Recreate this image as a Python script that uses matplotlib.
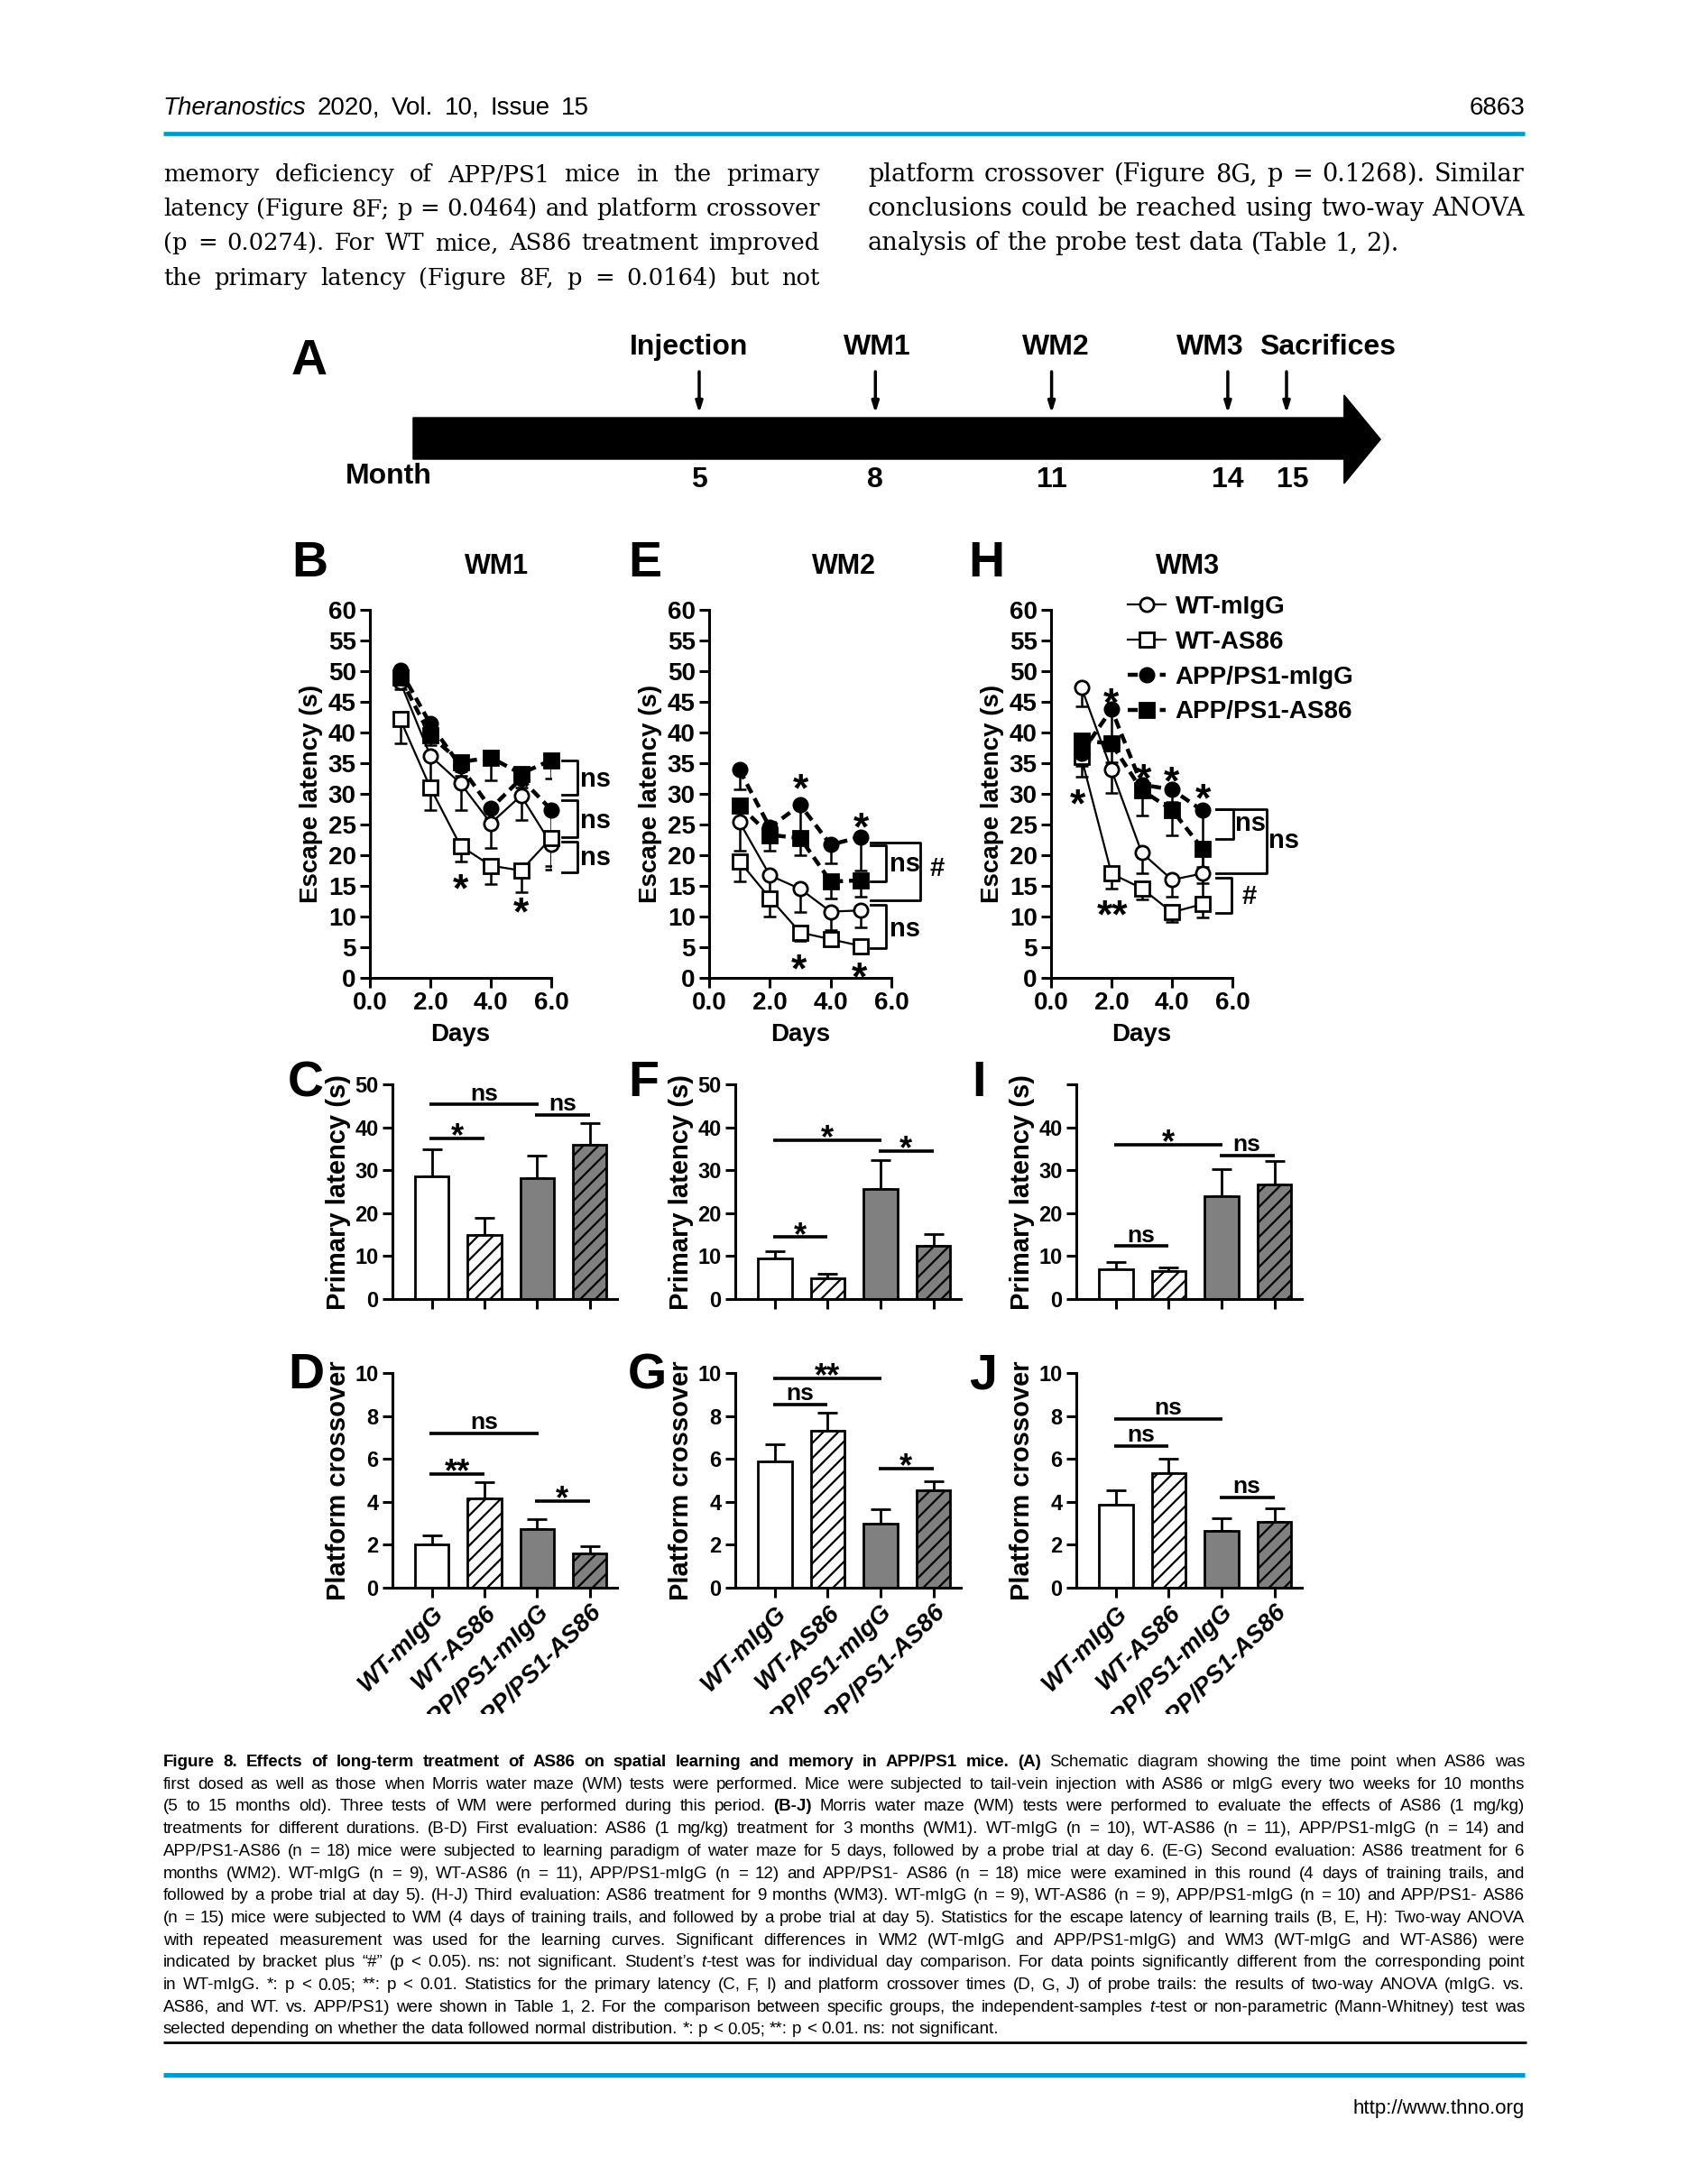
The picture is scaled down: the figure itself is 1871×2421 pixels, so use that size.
import matplotlib
matplotlib.use("Agg")
import matplotlib.pyplot as plt
import numpy as np
from matplotlib import font_manager
from matplotlib.patches import Polygon
from matplotlib.transforms import Bbox, TransformedBbox

W, H = 1871, 2421
BLUE = "#0099cc"
GRAY = "#808080"

_have = {f.name for f in font_manager.fontManager.ttflist}


def pick(*names):
    for n in names:
        if n in _have:
            return n
    return "DejaVu Sans"


SANS = pick("Liberation Sans", "Arial")
NARROW = pick("Liberation Sans Narrow", "Liberation Sans")
SERIF = "DejaVu Serif"

plt.rcParams["font.family"] = [SANS, "DejaVu Sans"]
plt.rcParams["font.weight"] = "bold"
plt.rcParams["axes.labelweight"] = "bold"
plt.rcParams["hatch.linewidth"] = 1.6

# ---- data ---------------------------------------------------------------
GROUPS = ["WT-mIgG", "WT-AS86", "APP/PS1-mIgG", "APP/PS1-AS86"]

# panel A timeline
events = ["Injection", "WM1", "WM2", "WM3", "Sacrifices"]
event_months = [5, 8, 11, 14, 15]
event_label_x = [4.82, 8.03, 11.07, 13.7, 15.7]

# escape latency (s), rows follow GROUPS; error = SEM (drawn downward)
wm1_days = [1, 2, 3, 4, 5, 6]
wm1_mean = [[48.3, 36.2, 31.7, 25.2, 29.7, 21.8],
            [42.2, 31.0, 21.5, 18.3, 17.5, 22.8],
            [50.2, 41.4, 34.5, 27.6, 32.5, 27.4],
            [49.0, 39.5, 35.2, 35.9, 33.3, 35.5]]
wm1_err = [[1.2, 5.0, 4.3, 4.0, 4.0, 4.2],
           [4.0, 3.6, 2.5, 3.0, 3.5, 4.5],
           [1.0, 1.5, 1.5, 1.5, 1.5, 5.0],
           [1.0, 1.5, 1.5, 3.7, 1.5, 3.0]]

wm2_days = [1, 2, 3, 4, 5]
wm2_mean = [[25.4, 16.7, 14.5, 10.8, 11.0],
            [19.0, 13.0, 7.4, 6.3, 5.2],
            [33.9, 24.5, 28.2, 21.7, 23.0],
            [28.1, 23.3, 22.8, 15.7, 15.9]]
wm2_err = [[4.6, 3.5, 3.7, 3.0, 2.7],
           [3.2, 3.0, 1.3, 0.6, 0.4],
           [3.1, 2.0, 5.0, 3.0, 5.5],
           [2.0, 2.5, 2.8, 2.7, 2.7]]

wm3_days = [1, 2, 3, 4, 5]
wm3_mean = [[47.4, 33.9, 20.4, 16.0, 17.0],
            [36.0, 17.0, 14.6, 10.7, 12.0],
            [36.6, 43.8, 31.5, 30.7, 27.3],
            [38.7, 38.2, 30.6, 27.4, 21.1]]
wm3_err = [[3.2, 3.7, 3.3, 2.7, 4.0],
           [3.2, 2.5, 1.8, 1.6, 2.2],
           [2.0, 5.0, 2.0, 2.0, 11.8],
           [2.0, 3.0, 4.2, 4.2, 3.0]]

# (x, y, label) day-wise significance marks
wm1_stars = [(3, 16.3, "*"), (5, 12.4, "*")]
wm2_stars = [(3, 32.6, "*"), (5, 26.2, "*"), (2.95, 3.2, "*"), (4.95, 1.8, "*")]
wm3_stars = [(0.87, 30.1, "*"), (1.98, 46.5, "*"), (3.07, 34.1, "*"),
             (3.99, 33.8, "*"), (5.03, 30.9, "*"), (2.03, 12.0, "**")]

# (x_left, x_right, y_top, y_bottom, label, label_x, label_y)
wm1_brackets = [(6.36, 6.86, 35.5, 29.8, "ns", 6.96, 32.4),
                (6.36, 6.86, 29.0, 23.0, "ns", 6.96, 25.6),
                (6.36, 6.86, 22.2, 17.2, "ns", 6.96, 19.6)]
wm2_brackets = [(5.32, 5.83, 21.6, 15.7, "ns", 5.93, 18.5),
                (5.32, 5.83, 11.9, 4.8, "ns", 5.93, 8.0),
                (5.32, 6.94, 22.1, 12.6, "#", 7.25, 17.8)]
wm3_brackets = [(5.45, 6.02, 27.5, 22.7, "ns", 6.1, 25.1),
                (5.45, 7.12, 27.5, 17.1, "ns", 7.2, 22.4),
                (5.45, 5.97, 16.3, 10.6, "#", 6.3, 13.2)]

# probe trial bars
c_mean, c_err = [28.6, 14.9, 28.2, 36.0], [6.2, 4.0, 5.2, 5.0]
f_mean, f_err = [9.5, 4.8, 25.6, 12.4], [1.7, 1.1, 6.7, 2.7]
i_mean, i_err = [7.0, 6.5, 23.9, 26.6], [1.6, 0.9, 6.4, 5.5]
d_mean, d_err = [2.02, 4.18, 2.73, 1.61], [0.42, 0.72, 0.47, 0.31]
g_mean, g_err = [5.89, 7.30, 2.99, 4.55], [0.79, 0.86, 0.68, 0.41]
j_mean, j_err = [3.88, 5.34, 2.64, 3.05], [0.64, 0.65, 0.58, 0.64]

# (bar_i, bar_j, y, label)
c_sig = [(0, 1, 37.4, "*"), (0, 2, 45.3, "ns"), (2, 3, 42.8, "ns")]
f_sig = [(0, 1, 14.4, "*"), (0, 2, 37.0, "*"), (2, 3, 34.5, "*")]
i_sig = [(0, 1, 12.3, "ns"), (0, 2, 36.0, "*"), (2, 3, 33.4, "ns")]
d_sig = [(0, 1, 5.31, "**"), (0, 2, 7.2, "ns"), (2, 3, 4.03, "*")]
g_sig = [(0, 1, 8.52, "ns"), (0, 2, 9.75, "**"), (2, 3, 5.55, "*")]
j_sig = [(0, 1, 6.61, "ns"), (0, 2, 7.85, "ns"), (2, 3, 4.21, "ns")]

# ---- page text --------------------------------------------------------------
body_left = [
    [("memory deficiency of APP/PS1 mice in the primary", "n")],
    [("latency (Figure 8F; p = 0.0464) and platform crossover", "n")],
    [("(p = 0.0274). For WT mice, AS86 treatment improved", "n")],
    [("the primary latency (Figure 8F, p = 0.0164) but not", "n")],
]
body_right = [
    [("platform crossover (Figure 8G, p = 0.1268). Similar", "n")],
    [("conclusions could be reached using two-way ANOVA", "n")],
    [("analysis of the probe test data (Table 1, 2).", "n")],
]
caption = [
    [("Figure 8. Effects of long-term treatment of AS86 on spatial learning and memory in APP/PS1 mice. (A)", "b"),
     (" Schematic diagram showing the time point when AS86 was", "n")],
    [("first dosed as well as those when Morris water maze (WM) tests were performed. Mice were subjected to tail-vein injection with AS86 or mIgG every two weeks for 10 months", "n")],
    [("(5 to 15 months old). Three tests of WM were performed during this period. ", "n"), ("(B-J)", "b"),
     (" Morris water maze (WM) tests were performed to evaluate the effects of AS86 (1 mg/kg)", "n")],
    [("treatments for different durations. (B-D) First evaluation: AS86 (1 mg/kg) treatment for 3 months (WM1). WT-mIgG (n = 10), WT-AS86 (n = 11), APP/PS1-mIgG (n = 14) and", "n")],
    [("APP/PS1-AS86 (n = 18) mice were subjected to learning paradigm of water maze for 5 days, followed by a probe trial at day 6. (E-G) Second evaluation: AS86 treatment for 6", "n")],
    [("months (WM2). WT-mIgG (n = 9), WT-AS86 (n = 11), APP/PS1-mIgG (n = 12) and APP/PS1- AS86 (n = 18) mice were examined in this round (4 days of training trails, and", "n")],
    [("followed by a probe trial at day 5). (H-J) Third evaluation: AS86 treatment for 9 months (WM3). WT-mIgG (n = 9), WT-AS86 (n = 9), APP/PS1-mIgG (n = 10) and APP/PS1- AS86", "n")],
    [("(n = 15) mice were subjected to WM (4 days of training trails, and followed by a probe trial at day 5). Statistics for the escape latency of learning trails (B, E, H): Two-way ANOVA", "n")],
    [("with repeated measurement was used for the learning curves. Significant differences in WM2 (WT-mIgG and APP/PS1-mIgG) and WM3 (WT-mIgG and WT-AS86) were", "n")],
    [("indicated by bracket plus \u201c#\u201d (p < 0.05). ns: not significant. Student\u2019s ", "n"), ("t", "i"),
     ("-test was for individual day comparison. For data points significantly different from the corresponding point", "n")],
    [("in WT-mIgG. *: p < 0.05; **: p < 0.01. Statistics for the primary latency (C, F, I) and platform crossover times (D, G, J) of probe trails: the results of two-way ANOVA (mIgG. vs.", "n")],
    [("AS86, and WT. vs. APP/PS1) were shown in Table 1, 2. For the comparison between specific groups, the independent-samples ", "n"),
     ("t", "i"), ("-test or non-parametric (Mann-Whitney) test was", "n")],
    [("selected depending on whether the data followed normal distribution. *: p < 0.05; **: p < 0.01. ns: not significant.", "n")],
]

# ---- figure -----------------------------------------------------------------
fig = plt.figure(figsize=(W / 100, H / 100), dpi=100)
page = fig.add_axes([0, 0, 1, 1])
page.set_xlim(0, W)
page.set_ylim(H, 0)
page.axis("off")
renderer = fig.canvas.get_renderer()


def px_axes(left, top, right, bottom):
    ax = fig.add_axes([left / W, 1 - bottom / H, (right - left) / W, (bottom - top) / H])
    ax.patch.set_alpha(0)
    return ax


def make_words(chunks, size, family):
    words = [[]]
    for s, st in chunks:
        for k, part in enumerate(s.split(" ")):
            if k:
                words.append([])
            if part:
                words[-1].append((part, st))
    out = []
    for w in words:
        if not w:
            continue
        pieces = []
        for part, st in w:
            t = page.text(0, 0, part, fontsize=size, family=family,
                          fontweight="bold" if st == "b" else "normal",
                          fontstyle="italic" if st == "i" else "normal",
                          ha="left", va="baseline")
            pieces.append((t, t.get_window_extent(renderer).width))
        out.append(pieces)
    return out


def paragraph(lines, x0, x1, y0, dy, size, family, justify_last=False):
    built = [make_words(l, size, family) for l in lines]
    a = page.text(0, 0, "a a", fontsize=size, family=family, fontweight="normal")
    b = page.text(0, 0, "aa", fontsize=size, family=family, fontweight="normal")
    sp = a.get_window_extent(renderer).width - b.get_window_extent(renderer).width
    a.remove()
    b.remove()
    natural = [sum(p[1] for w in ws for p in w) + sp * (len(ws) - 1) for ws in built]
    k = min(1.0, 0.995 * (x1 - x0) / max(natural))
    for n, ws in enumerate(built):
        y = y0 + n * dy
        wsum = sum(p[1] for w in ws for p in w) * k
        if (n < len(built) - 1 or justify_last) and len(ws) > 1:
            gap = (x1 - x0 - wsum) / (len(ws) - 1)
        else:
            gap = sp * k
        x = x0
        for w in ws:
            for t, wd in w:
                t.set_fontsize(size * k)
                t.set_position((x, y))
                x += wd * k
            x += gap


# header / body / caption / footer
paragraph([[("Theranostics", "i"), (" 2020, Vol. 10, Issue 15", "n")]], 181, 653, 127, 0, 20, SANS,
          justify_last=True)
page.text(1690, 127, "6863", ha="right", va="baseline", fontsize=20, fontweight="normal")
page.plot([181, 1690], [148, 148], color=BLUE, lw=3.4, solid_capstyle="butt")

paragraph(body_left, 181, 909, 201, 38.2, 19.5, SERIF, justify_last=True)
paragraph(body_right, 962, 1690, 201, 38.2, 19.5, SERIF)

paragraph(caption, 181, 1690, 1958, 24.7, 13.5, SANS)
page.plot([181, 1692], [2264, 2264], color="black", lw=2, solid_capstyle="butt")
page.plot([181, 1690], [2300, 2300], color=BLUE, lw=3.6, solid_capstyle="butt")
page.text(1690, 2343, "http://www.thno.org", ha="right", va="baseline", fontsize=16,
          fontweight="normal")

# panel letters and titles
for lab, x, y in [("A", 343, 401), ("B", 343, 625), ("E", 715, 625), ("H", 1093, 625),
                  ("C", 339, 1201), ("F", 713, 1201), ("I", 1085, 1201),
                  ("D", 339, 1525), ("G", 717, 1525), ("J", 1090, 1525)]:
    page.text(x, y, lab, ha="center", va="center", fontsize=40)
for lab, x in [("WM1", 551), ("WM2", 935), ("WM3", 1317)]:
    page.text(x, 628, lab, ha="center", va="center", fontsize=22)

# ---- panel A: timeline --------------------------------------------------------
def month_of(px):
    return 5 + (px - 775) / 65.1


axA = px_axes(300, 350, 1600, 560)
axA.set_xlim(month_of(300), month_of(1600))
axA.set_ylim(560, 350)
axA.axis("off")
axA.add_patch(Polygon([(0.13, 463), (15.98, 463), (15.98, 438), (16.6, 487),
                       (15.98, 536), (15.98, 509), (0.13, 509)], closed=True,
                      facecolor="black", edgecolor="black"))
A_FONT = 25 if NARROW != SANS else 23
for ev, m, lx in zip(events, event_months, event_label_x):
    axA.annotate("", xy=(m, 458), xytext=(m, 412),
                 arrowprops=dict(arrowstyle="-|>,head_length=0.7,head_width=0.22",
                                 lw=2.5, color="black", shrinkA=0, shrinkB=0))
    axA.text(lx, 385, ev, ha="center", va="center", fontsize=A_FONT, family=NARROW)
    axA.text(m + (0.1 if m == 15 else 0), 532, str(m), ha="center", va="center",
             fontsize=A_FONT, family=NARROW)
axA.text(month_of(431), 528, "Month", ha="center", va="center", fontsize=A_FONT, family=NARROW)

# ---- learning curves --------------------------------------------------------
CURVE_STYLE = [
    dict(marker="o", mfc="white", ls="-", lw=1.6),
    dict(marker="s", mfc="white", ls="-", lw=1.6),
    dict(marker="o", mfc="black", ls=(0, (2.5, 1.5)), lw=3.2),
    dict(marker="s", mfc="black", ls=(0, (2.5, 1.5)), lw=3.2),
]
STAR = 32          # asterisk size (pt) on the learning curves
BAR_STAR = 26      # asterisk size (pt) over the bars
STAR_MID = 0.58    # asterisk centre above baseline, in em


def style_axis(ax):
    for s in ("top", "right"):
        ax.spines[s].set_visible(False)
    for s in ("left", "bottom"):
        ax.spines[s].set_linewidth(2.2)
    ax.tick_params(direction="out", length=8, width=2.2, pad=3)


def curve_panel(ax, days, means, errs, stars, brackets):
    handles = []
    for k in range(4):
        ax.errorbar(days, means[k], yerr=[errs[k], np.zeros(len(days))], fmt="none",
                    ecolor="black", elinewidth=1.8, capsize=5, capthick=1.8, zorder=2)
    for k in range(4):
        st = CURVE_STYLE[k]
        h, = ax.plot(days, means[k], color="black", marker=st["marker"], mfc=st["mfc"],
                     mec="black", mew=2, ms=11, ls=st["ls"], lw=st["lw"],
                     zorder=3 + k, clip_on=False)
        handles.append(h)
    for x, y, lab in stars:
        ax.annotate(lab, (x, y), xytext=(0, -STAR * STAR_MID), textcoords="offset points",
                    ha="center", va="baseline", fontsize=STAR, annotation_clip=False)
    for x0, x1, yt, yb, lab, lx, ly in brackets:
        ax.plot([x0, x1, x1, x0], [yt, yt, yb, yb], color="black", lw=2, clip_on=False)
        ax.text(lx, ly, lab, ha="left", va="center", fontsize=21, clip_on=False)
    ax.set_xlim(0, 6)
    ax.set_ylim(0, 60)
    ax.set_xticks([0, 2, 4, 6])
    ax.set_xticklabels(["0.0", "2.0", "4.0", "6.0"])
    ax.set_yticks(np.arange(0, 61, 5))
    ax.tick_params(labelsize=20)
    ax.set_xlabel("Days", fontsize=20, labelpad=6)
    ax.set_ylabel("Escape latency (s)", fontsize=20, labelpad=4)
    style_axis(ax)
    return handles


axB = px_axes(410, 676, 611, 1084)
curve_panel(axB, wm1_days, wm1_mean, wm1_err, wm1_stars, wm1_brackets)
axE = px_axes(786, 676, 988, 1084)
curve_panel(axE, wm2_days, wm2_mean, wm2_err, wm2_stars, wm2_brackets)
axH = px_axes(1165, 676, 1366, 1084)
hh = curve_panel(axH, wm3_days, wm3_mean, wm3_err, wm3_stars, wm3_brackets)
axH.legend(hh, GROUPS, loc="upper left", bbox_to_anchor=(1250 / W, 1 - 660 / H),
           bbox_transform=fig.transFigure, frameon=False, handlelength=1.5,
           handletextpad=0.4, labelspacing=0.46, borderaxespad=0, borderpad=0,
           prop=dict(weight="bold", size=20))

# ---- probe trial bars ---------------------------------------------------------
BAR_FILL = ["white", "white", GRAY, GRAY]
BAR_HATCH = ["", "//", "", "//"]
label_clip = TransformedBbox(Bbox([[0, 1 - 1900 / H], [1, 1]]), fig.transFigure)


def bar_panel(ax, means, errs, sigs, ymax, yticks, ylabel, xlabels):
    x = np.arange(4)
    for i in range(4):
        ax.bar(x[i], means[i], width=0.64, color=BAR_FILL[i], edgecolor="black",
               linewidth=2, hatch=BAR_HATCH[i], zorder=2)
    ax.errorbar(x, means, yerr=[np.zeros(4), errs], fmt="none", ecolor="black",
                elinewidth=2, capsize=8, capthick=2, zorder=1)
    for i, j, y, lab in sigs:
        x0, x1 = i - 0.04, j + (0.02 if j - i > 1 else 0)
        ax.plot([x0, x1], [y, y], color="black", lw=2.6, solid_capstyle="butt",
                clip_on=False)
        xm = (x0 + x1) / 2
        if lab.startswith("*"):
            ax.annotate(lab, (xm, y), xytext=(0, 9 - BAR_STAR * STAR_MID),
                        textcoords="offset points", ha="center", va="baseline",
                        fontsize=BAR_STAR, family=NARROW, annotation_clip=False)
        else:
            ax.annotate(lab, (xm, y), xytext=(0, 3.5), textcoords="offset points",
                        ha="center", va="baseline", fontsize=19, family=NARROW,
                        annotation_clip=False)
    ax.set_xlim(-0.75, 3.52)
    ax.set_ylim(0, ymax)
    ax.set_yticks(yticks)
    ax.set_yticklabels([str(v) for v in yticks], family=NARROW, fontsize=17)
    ax.set_xticks(x)
    if xlabels:
        ax.set_xticklabels(GROUPS, rotation=45, ha="right", rotation_mode="anchor",
                           fontstyle="italic", fontsize=20)
        for t in ax.get_xticklabels():
            t.set_clip_box(label_clip)
            t.set_clip_on(True)
    else:
        ax.set_xticklabels([])
    ax.set_ylabel(ylabel, fontsize=21)
    ax.yaxis.set_label_coords(-46 / 249, 0.5)
    style_axis(ax)


axC = px_axes(435, 1202, 684, 1440)
bar_panel(axC, c_mean, c_err, c_sig, 50, [0, 10, 20, 30, 40, 50], "Primary latency (s)", False)
axF = px_axes(815, 1202, 1065, 1440)
bar_panel(axF, f_mean, f_err, f_sig, 50, [0, 10, 20, 30, 40, 50], "Primary latency (s)", False)
axI = px_axes(1193, 1202, 1443, 1440)
bar_panel(axI, i_mean, i_err, i_sig, 50, [0, 10, 20, 30, 40, 50], "Primary latency (s)", False)
axI.set_yticklabels(["0", "10", "20", "30", "40", ""], family=NARROW, fontsize=17)

axD = px_axes(435, 1522, 684, 1760)
bar_panel(axD, d_mean, d_err, d_sig, 10, [0, 2, 4, 6, 8, 10], "Platform crossover", True)
axG = px_axes(815, 1522, 1065, 1760)
bar_panel(axG, g_mean, g_err, g_sig, 10, [0, 2, 4, 6, 8, 10], "Platform crossover", True)
axJ = px_axes(1193, 1522, 1443, 1760)
bar_panel(axJ, j_mean, j_err, j_sig, 10, [0, 2, 4, 6, 8, 10], "Platform crossover", True)

fig.savefig("out.png", dpi=100, facecolor="white")
